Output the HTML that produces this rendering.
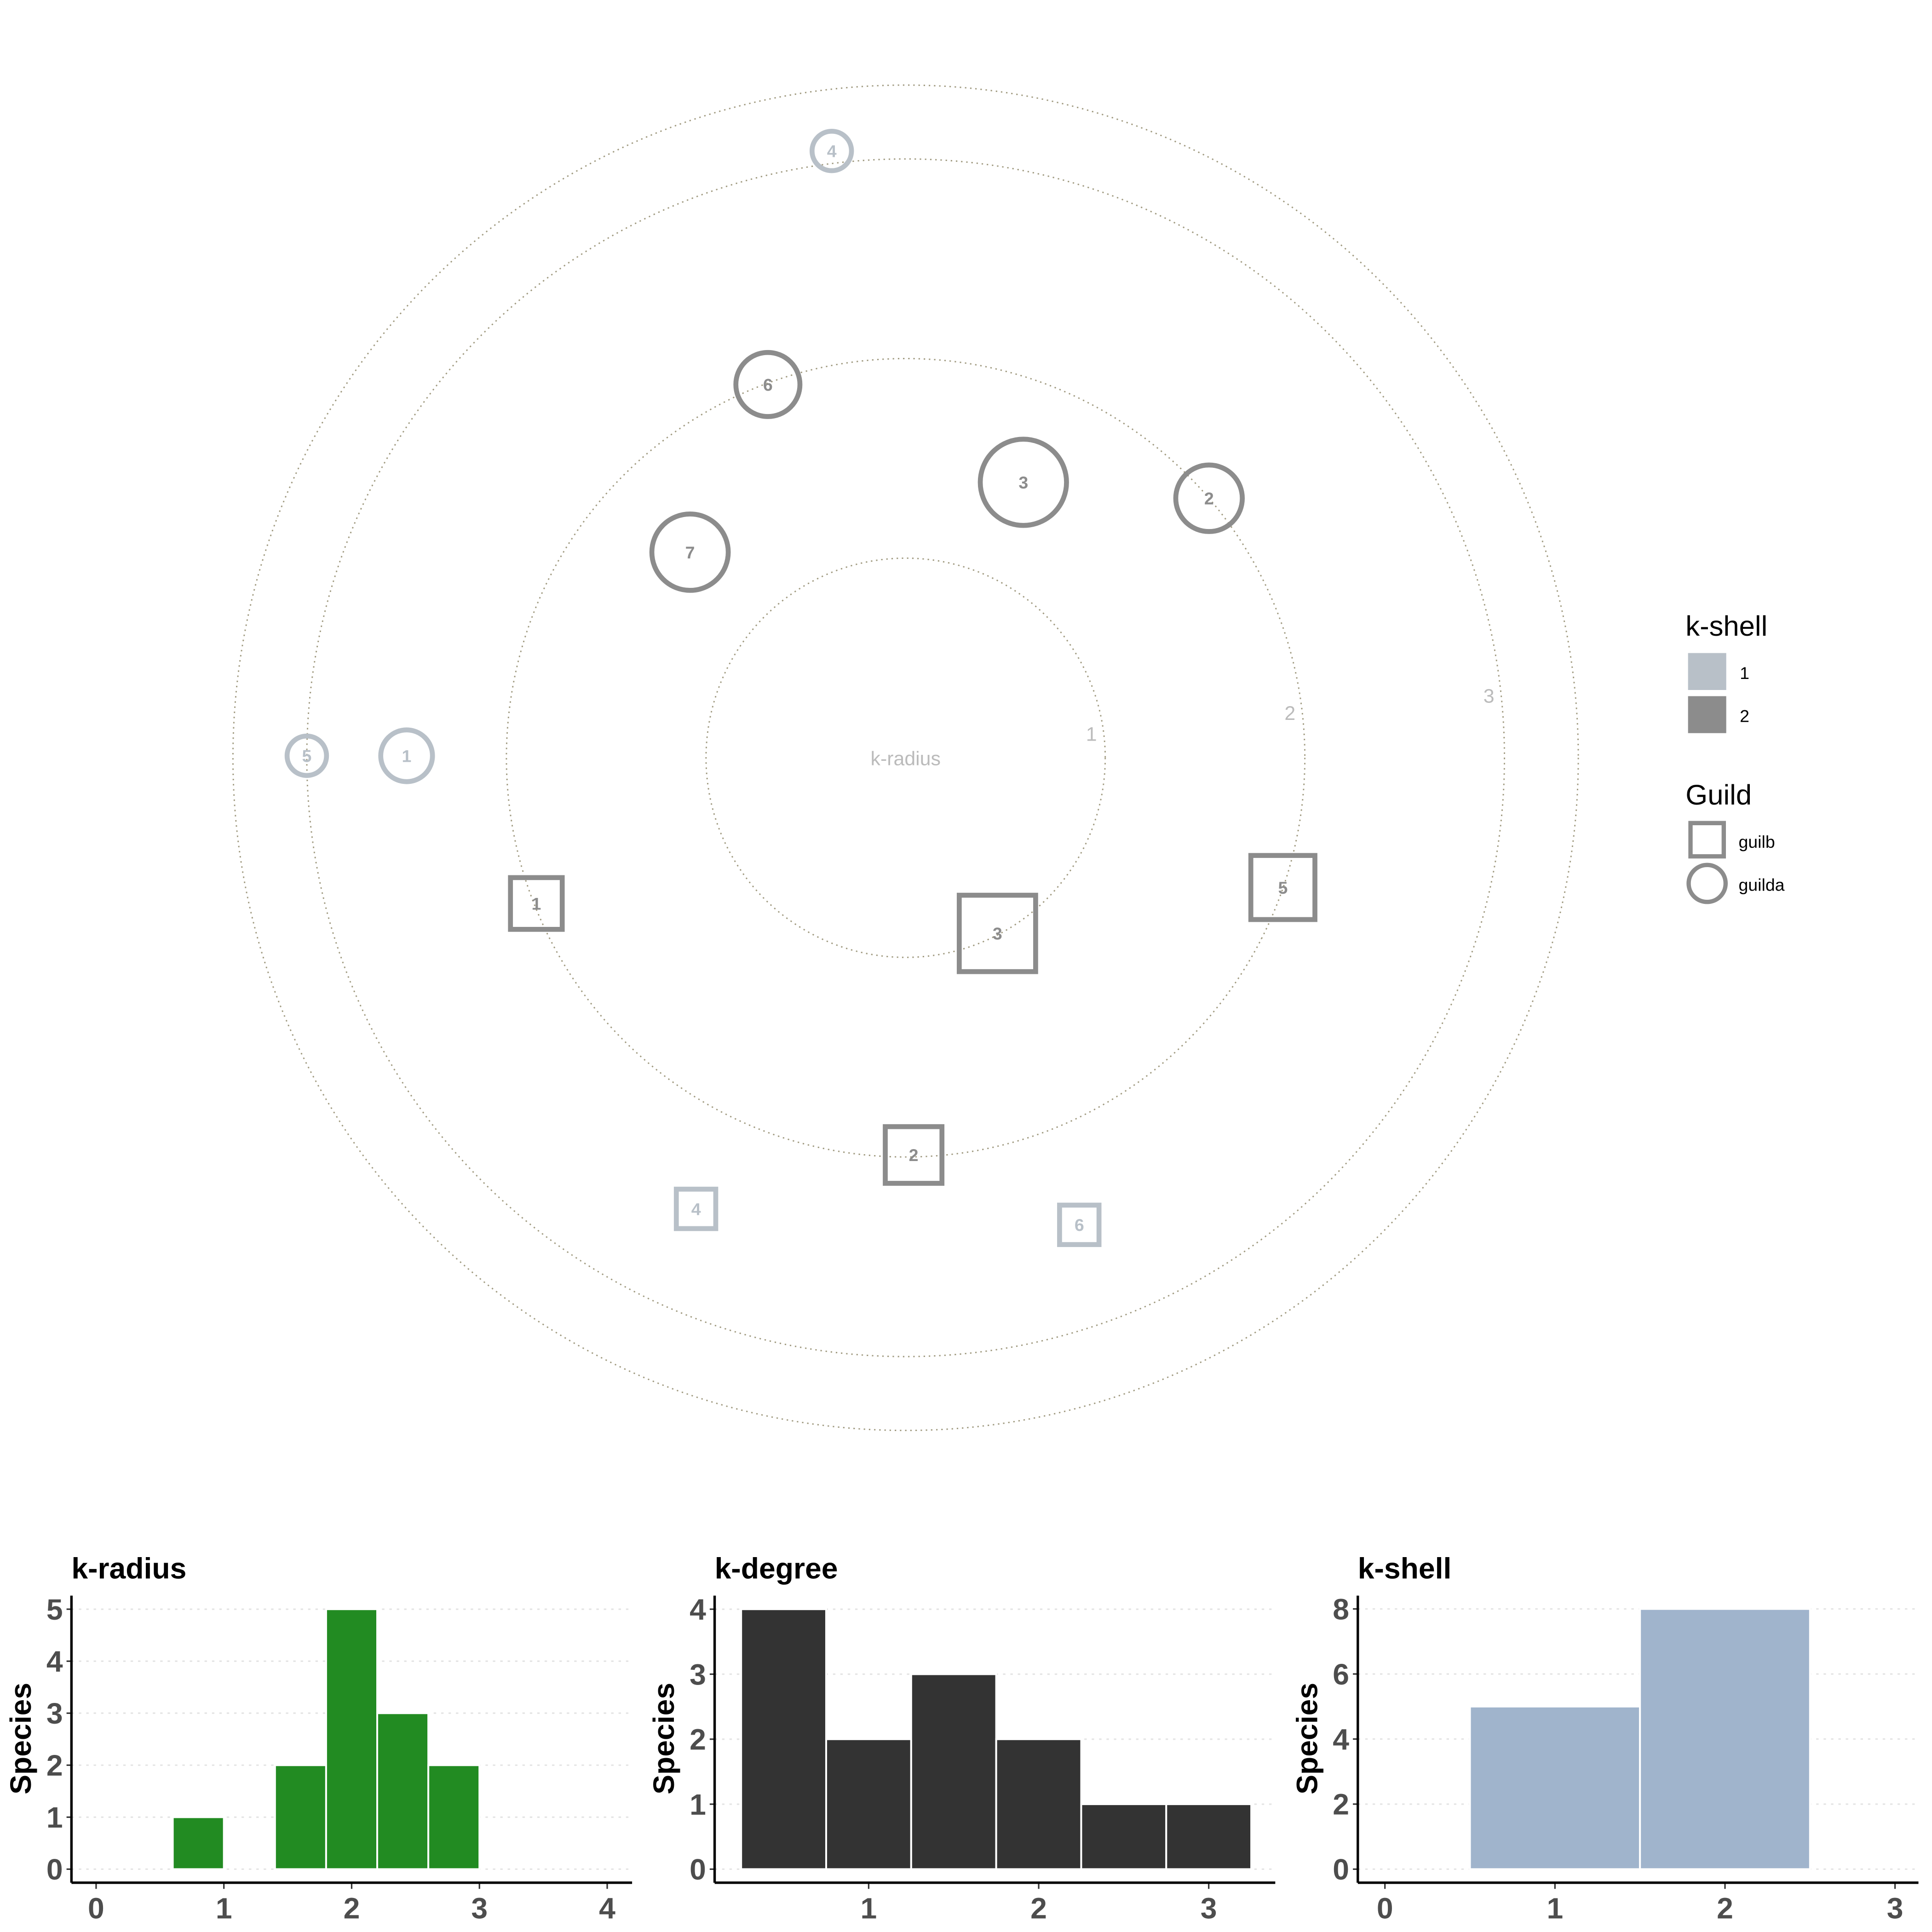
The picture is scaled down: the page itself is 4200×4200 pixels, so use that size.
<!DOCTYPE html>
<html><head><meta charset="utf-8"><style>
html,body{margin:0;padding:0;background:#fff}
svg{display:block}
text{font-family:"Liberation Sans",Arial,sans-serif}
</style></head><body>
<svg id="root" xmlns="http://www.w3.org/2000/svg" width="4200" height="4200" viewBox="0 0 1568 1568">
<g id="polar"></g>
<g id="legend">
<text x="1368" y="516" font-size="23" fill="#000">k-shell</text>
<rect x="1370" y="530" width="31" height="30" fill="#b8c0c8"/>
<rect x="1370" y="565" width="31" height="30" fill="#8c8c8c"/>
<text x="1412" y="551" font-size="14">1</text>
<text x="1412" y="586" font-size="14">2</text>
<text x="1368" y="653" font-size="23" fill="#000">Guild</text>
<rect x="1372" y="668" width="27" height="27" fill="none" stroke="#8c8c8c" stroke-width="3.5"/>
<circle cx="1385.5" cy="717" r="15" fill="none" stroke="#8c8c8c" stroke-width="3.5"/>
<text x="1411" y="688" font-size="14">guilb</text>
<text x="1411" y="723" font-size="14">guilda</text>
</g>
<g id="charts"></g>
</svg>
<script>
// ---- polar data ----
const ringRadii = [1, 2, 3, 3.37];
const ringLabels = ["1", "2", "3"];
const nodeLabels = ["4","6","3","2","7","5","1","1","3","5","2","4","6"];
const nodeGuild = ["a","a","a","a","a","a","a","b","b","b","b","b","b"];
const nodeShell = [1,2,2,2,2,1,1,2,2,2,2,1,1];
const nodeX = [-0.37,-0.69,0.59,1.52,-1.08,-3.0,-2.5,-1.85,0.46,1.89,0.04,-1.05,0.87];
const nodeY = [3.04,1.87,1.38,1.30,1.03,0.01,0.01,-0.73,-0.88,-0.65,-1.99,-2.26,-2.34];
const nodeSize = [16,26,35,27,31,16,21,21,31,26,23,16,16];

const NS = "http://www.w3.org/2000/svg";
function mk(tag, attrs, parent){const e=document.createElementNS(NS,tag);for(const k in attrs)e.setAttribute(k,attrs[k]);parent.appendChild(e);return e;}
const cx=735, cy=615, unit=162;
const px=v=>cx+v*unit, py=v=>cy-v*unit;
const polar=document.getElementById('polar');
ringRadii.forEach((r,i)=>{
  const c=mk('circle',{cx:cx,cy:cy,r:r*unit,fill:'none',stroke:'#a09a80','stroke-width':1.1,'stroke-dasharray':'1.2 3'},polar);
  
  
});
ringLabels.forEach((l,i)=>{
  const r=(i+1)*unit, a=(7-i*0.5)*Math.PI/180;
  const t=mk('text',{x:cx+r*Math.cos(a)-10,y:cy-r*Math.sin(a)+6,'font-size':16,fill:'#bbbbbb','text-anchor':'middle'},polar);
  t.textContent=l;
  
  
});
const kr=mk('text',{x:cx,y:cy+6,'font-size':16,fill:'#bbbbbb','text-anchor':'middle'},polar);
kr.textContent='k-radius';


nodeLabels.forEach((l,i)=>{
  const x=px(nodeX[i]), y=py(nodeY[i]), s=nodeSize[i];
  const col=nodeShell[i]===1?'#b8c0c8':'#8c8c8c';
  let m;
  if(nodeGuild[i]==='a') m=mk('circle',{cx:x,cy:y,r:s,fill:'none',stroke:col,'stroke-width':4},polar);
  else m=mk('rect',{x:x-s,y:y-s,width:2*s,height:2*s,fill:'none',stroke:col,'stroke-width':4},polar);
  
  
  const t=mk('text',{x:x,y:y+5,'font-size':14,'font-weight':'bold',fill:col,'text-anchor':'middle'},polar);
  t.textContent=l;
  
  
});

// ---- histogram data ----
const kradCenters=[0.8,1.2,1.6,2.0,2.4,2.8];
const kradValues=[1,0,2,5,3,2];
const kradYTicks=[0,1,2,3,4,5];
const kradXTicks=[0,1,2,3,4];
const kdegCenters=[0.5,1.0,1.5,2.0,2.5,3.0];
const kdegValues=[4,2,3,2,1,1];
const kdegYTicks=[0,1,2,3,4];
const kdegXTicks=[1,2,3];
const kshCenters=[1,2];
const kshValues=[5,8];
const kshYTicks=[0,2,4,6,8];
const kshXTicks=[0,1,2,3];

const charts=document.getElementById('charts');
function hist(cfg){
  const g=mk('g',{},charts);
  
  
  const X=v=>cfg.x0+(v-cfg.xv0)*cfg.xs, Y=v=>1517-v*cfg.ys;
  cfg.yt.forEach(v=>{
    const gl=mk('line',{x1:cfg.ax,x2:cfg.axEnd,y1:Y(v),y2:Y(v),stroke:'#e4e4e4','stroke-width':1.2,'stroke-dasharray':'2 4'},g);
    
    
    const t=mk('text',{x:cfg.ax-7,y:Y(v)+8.5,'font-size':24,'font-weight':'bold',fill:'#4d4d4d','text-anchor':'end'},g);
    t.textContent=v;
    
    
    mk('line',{x1:cfg.ax-4,x2:cfg.ax,y1:Y(v),y2:Y(v),stroke:'#333','stroke-width':1.2},g);
  });
  cfg.c.forEach((c,i)=>{
    const b=mk('rect',{x:X(c-cfg.w/2),y:Y(cfg.v[i]),width:cfg.w*cfg.xs,height:cfg.v[i]*cfg.ys,fill:cfg.col,stroke:'#fff','stroke-width':1.5},g);
    
    
  });
  cfg.xt.forEach(v=>{
    mk('line',{x1:X(v),x2:X(v),y1:1528,y2:1533,stroke:'#333','stroke-width':1.2},g);
    const t=mk('text',{x:X(v),y:1557,'font-size':24,'font-weight':'bold',fill:'#4d4d4d','text-anchor':'middle'},g);
    t.textContent=v;
    
    
  });
  const ya=mk('line',{x1:cfg.ax,x2:cfg.ax,y1:1295,y2:1528,stroke:'#000','stroke-width':2},g);
  
  
  const xa=mk('line',{x1:cfg.ax,x2:cfg.axEnd,y1:1528,y2:1528,stroke:'#000','stroke-width':2},g);
  
  
  const tt=mk('text',{x:cfg.ax,y:1281,'font-size':24,'font-weight':'bold',fill:'#000'},g);
  tt.textContent=cfg.title;
  
  
  const yl=mk('text',{x:0,y:0,'font-size':24,'font-weight':'bold',fill:'#000','text-anchor':'middle',transform:`translate(${cfg.ax-33},1411) rotate(-90)`},g);
  yl.textContent='Species';
  
  
}
hist({name:'k-radius-histogram',title:'k-radius',ax:58,axEnd:513,x0:78,xv0:0,xs:103.7,ys:42.2,w:0.4,c:kradCenters,v:kradValues,yt:kradYTicks,xt:kradXTicks,col:'#228b22'});
hist({name:'k-degree-histogram',title:'k-degree',ax:580,axEnd:1035,x0:705,xv0:1,xs:138,ys:52.75,w:0.5,c:kdegCenters,v:kdegValues,yt:kdegYTicks,xt:kdegXTicks,col:'#333333'});
hist({name:'k-shell-histogram',title:'k-shell',ax:1102,axEnd:1557,x0:1124,xv0:0,xs:138,ys:26.4,w:1,c:kshCenters,v:kshValues,yt:kshYTicks,xt:kshXTicks,col:'#a0b4cc'});
</script>
</body></html>
